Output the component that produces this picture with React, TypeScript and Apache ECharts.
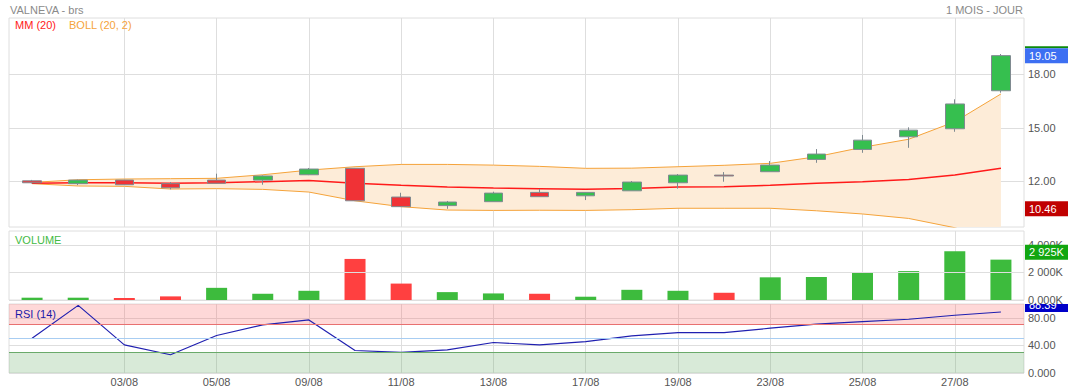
import React, { useEffect, useRef } from "react";
import * as echarts from "echarts";

const dates = ["30/07", "02/08", "03/08", "04/08", "05/08", "06/08", "09/08", "10/08", "11/08", "12/08", "13/08", "16/08", "17/08", "18/08", "19/08", "20/08", "23/08", "24/08", "25/08", "26/08", "27/08", "30/08"];
const opens = [12.03, 11.87, 12.07, 11.87, 12.07, 12.07, 12.37, 12.73, 11.12, 10.64, 10.86, 11.38, 11.19, 11.47, 11.92, 12.35, 12.54, 13.23, 13.79, 14.5, 14.95, 17.08];
const closes = [11.92, 12.07, 11.81, 11.64, 11.89, 12.3, 12.69, 10.91, 10.58, 10.84, 11.34, 11.14, 11.38, 11.96, 12.35, 12.3, 12.91, 13.53, 14.31, 14.87, 16.34, 19.05];
const lows = [11.88, 11.79, 11.79, 11.55, 11.87, 11.81, 12.35, 10.91, 10.56, 10.46, 10.86, 11.14, 10.95, 11.47, 11.59, 11.98, 12.54, 13.04, 13.6, 13.88, 14.78, 16.97];
const highs = [12.08, 12.09, 12.09, 11.96, 12.43, 12.33, 12.75, 12.75, 11.36, 10.9, 11.42, 11.57, 11.4, 12.02, 12.41, 12.52, 13.14, 13.81, 14.6, 15.03, 16.6, 19.14];
const mm20 = [11.89, 11.92, 11.92, 11.89, 11.92, 11.98, 12.05, 11.9, 11.78, 11.68, 11.62, 11.59, 11.55, 11.6, 11.68, 11.7, 11.78, 11.89, 11.98, 12.11, 12.35, 12.73];
const bollUp = [11.94, 12.09, 12.13, 12.15, 12.17, 12.37, 12.63, 12.82, 12.95, 12.95, 12.91, 12.84, 12.73, 12.74, 12.82, 12.9, 13.01, 13.38, 13.91, 14.36, 15.34, 16.9];
const bollLow = [11.87, 11.74, 11.72, 11.57, 11.59, 11.55, 11.4, 10.91, 10.58, 10.39, 10.37, 10.38, 10.37, 10.41, 10.49, 10.49, 10.49, 10.35, 10.17, 9.92, 9.4, 8.6];
const volumesK = [167, 167, 143, 262, 881, 452, 667, 2976, 1190, 571, 476, 452, 238, 738, 667, 524, 1643, 1667, 2000, 2095, 3524, 2925];
const rsi14 = [50.5, 98, 40.8, 26.4, 54.3, 69.7, 76.9, 32.6, 29.8, 33.6, 44.2, 40.8, 45.6, 53.8, 58.6, 58.6, 64.9, 70.7, 74.5, 77.9, 83.7, 88.39];

const priceTicks = [12, 15, 18];
const volumeTicks = [0, 2000, 4000];
const rsiTicks = [0, 40, 80];
const rsiOverbought = 70;
const rsiOversold = 30;
const rsiMiddle = 50;

const FONT = "'Liberation Sans', Arial, sans-serif";
const GRID_LINE = "#dedede";
const LABEL = "#555";
const UP = "#36bf4f";
const DOWN = "#f03236";
const BORDER = "#7f8a90";

const showEven = (i: number) => i > 0 && i % 2 === 0;

function fmtVol(v: number) {
  if (v === 0) return "0.000K";
  const th = Math.floor(v / 1000);
  const rest = String(Math.round(v % 1000)).padStart(3, "0");
  return `${th} ${rest}K`;
}

export default function App() {
  const ref = useRef<HTMLDivElement>(null);
  useEffect(() => {
    if (!ref.current) return;
    const chart = echarts.init(ref.current, undefined, { renderer: "svg" });
    const candleData = opens.map((o, i) => [o, closes[i], lows[i], highs[i]]);
    const bandWidth = bollUp.map((u, i) => +(u - bollLow[i]).toFixed(4));
    const volData = volumesK.map((v, i) => ({
      value: v,
      itemStyle: { color: i === 0 || closes[i] >= closes[i - 1] ? "#3dbb3d" : "#ff4040" },
    }));

    const grids = [
      { left: 9, right: 44, top: 18, height: 209 },
      { left: 9, right: 44, top: 231, height: 69 },
      { left: 9, right: 44, top: 304, height: 69 },
    ].map((g) => ({ ...g, show: true, borderColor: GRID_LINE, borderWidth: 1, backgroundColor: "transparent" }));

    const xAxes = [0, 1, 2].map((gi) => ({
      type: "category",
      gridIndex: gi,
      data: dates,
      boundaryGap: true,
      axisLine: { show: false },
      axisTick: { show: false, alignWithLabel: true, interval: showEven },
      axisLabel: {
        show: gi === 2,
        interval: showEven,
        color: LABEL,
        fontSize: 11,
        fontFamily: FONT,
        margin: 3,
      },
      splitLine: { show: true, interval: showEven, alignWithLabel: true, lineStyle: { color: GRID_LINE, width: 1 } },
    }));

    const yBase = {
      type: "value",
      position: "right",
      axisLine: { show: false },
      splitLine: { show: true, lineStyle: { color: GRID_LINE, width: 1 } },
    };
    const yAxes = [
      {
        ...yBase,
        gridIndex: 0,
        min: 9.44,
        max: 21.16,
        axisTick: { show: false, customValues: priceTicks },
        axisLabel: { customValues: priceTicks, formatter: (v: number) => v.toFixed(2), color: LABEL, fontSize: 11, fontFamily: FONT, margin: 4 },
      },
      {
        ...yBase,
        gridIndex: 1,
        min: 0,
        max: 5000,
        z: 5,
        axisTick: { show: false, customValues: volumeTicks },
        axisLabel: { customValues: volumeTicks, formatter: fmtVol, color: LABEL, fontSize: 11, fontFamily: FONT, margin: 4 },
      },
      {
        ...yBase,
        gridIndex: 2,
        min: 0,
        max: 100,
        axisTick: { show: false, customValues: rsiTicks },
        axisLabel: { customValues: rsiTicks, formatter: (v: number) => (v === 0 ? "0.000" : v.toFixed(2)), color: LABEL, fontSize: 11, fontFamily: FONT, margin: 4 },
      },
    ];

    const headerText = (text: string, x: number, y: number, fill: string, align = "left") => ({
      type: "text",
      x,
      y,
      z: 10,
      silent: true,
      style: { text, fill, font: `11px ${FONT}`, textAlign: align, textVerticalAlign: "middle" },
    });

    const baseGraphic = [
      headerText("VALNEVA - brs", 10, 10, "#8a8a8a"),
      headerText("1 MOIS - JOUR", 1023, 10, "#8a8a8a", "right"),
      headerText("MM (20)", 15, 25, "#ff1a1a"),
      headerText("BOLL (20, 2)", 69, 25, "#f5a33a"),
      headerText("VOLUME", 15, 240, "#44bb44"),
      headerText("RSI (14)", 15, 314, "#1a1aa8"),
    ];

    chart.setOption({
      animation: false,
      grid: grids,
      xAxis: xAxes,
      yAxis: yAxes,
      graphic: baseGraphic,
      series: [
        {
          name: "bollLow",
          type: "line",
          xAxisIndex: 0,
          yAxisIndex: 0,
          data: bollLow,
          stack: "boll",
          symbol: "none",
          z: 2,
          lineStyle: { color: "#f5a33a", width: 1 },
        },
        {
          name: "bollBand",
          type: "line",
          xAxisIndex: 0,
          yAxisIndex: 0,
          data: bandWidth,
          stack: "boll",
          symbol: "none",
          z: 1,
          lineStyle: { width: 0, opacity: 0 },
          areaStyle: { color: "#fdecd8", opacity: 1 },
        },
        {
          name: "bollUp",
          type: "line",
          xAxisIndex: 0,
          yAxisIndex: 0,
          data: bollUp,
          symbol: "none",
          z: 2,
          lineStyle: { color: "#f5a33a", width: 1 },
        },
        {
          name: "MM20",
          type: "line",
          xAxisIndex: 0,
          yAxisIndex: 0,
          data: mm20,
          symbol: "none",
          z: 3,
          lineStyle: { color: "#ff1a1a", width: 1.5 },
        },
        {
          name: "VALNEVA",
          type: "candlestick",
          xAxisIndex: 0,
          yAxisIndex: 0,
          data: candleData,
          barWidth: 19,
          z: 4,
          itemStyle: { color: UP, color0: DOWN, borderColor: BORDER, borderColor0: BORDER, borderWidth: 1 },
        },
        {
          name: "Volume",
          type: "bar",
          xAxisIndex: 1,
          yAxisIndex: 1,
          data: volData,
          barWidth: 21,
        },
        {
          name: "RSI",
          type: "line",
          xAxisIndex: 2,
          yAxisIndex: 2,
          data: rsi14,
          symbol: "none",
          z: 4,
          lineStyle: { color: "#2020b0", width: 1.2 },
          markArea: {
            silent: true,
            data: [
              [{ yAxis: rsiOverbought, itemStyle: { color: "rgba(250,100,100,0.25)" } }, { yAxis: 100 }],
              [{ yAxis: 0, itemStyle: { color: "rgba(100,170,100,0.25)" } }, { yAxis: rsiOversold }],
            ],
          },
          markLine: {
            silent: true,
            symbol: "none",
            label: { show: false },
            data: [
              { yAxis: rsiOverbought, lineStyle: { color: "#e87070", width: 1, type: "solid" } },
              { yAxis: rsiMiddle, lineStyle: { color: "#a8cdf2", width: 1, type: "solid" } },
              { yAxis: rsiOversold, lineStyle: { color: "#6aaa6a", width: 1, type: "solid" } },
            ],
          },
        },
      ],
    });

    // value tags on the right, placed from the data through the axes
    const n = closes.length;
    const lastClose = closes[n - 1];
    const minLow = Math.min(...lows);
    const lastVol = volumesK[n - 1];
    const lastRsi = rsi14[n - 1];
    const yClose = chart.convertToPixel({ yAxisIndex: 0 }, lastClose) as number;
    const yMin = chart.convertToPixel({ yAxisIndex: 0 }, minLow) as number;
    const yVol = chart.convertToPixel({ yAxisIndex: 1 }, lastVol) as number;
    const yRsi = chart.convertToPixel({ yAxisIndex: 2 }, lastRsi) as number;
    const yRsiTop = chart.convertToPixel({ yAxisIndex: 2 }, 100) as number;
    const tagX = 1025;
    const tagW = 43;
    const tagText = (text: string, y: number, z = 10) => ({
      type: "text",
      x: tagX + 4,
      y,
      z,
      silent: true,
      style: { text, fill: "#fff", font: `11px ${FONT}`, textAlign: "left", textVerticalAlign: "middle" },
    });
    const rect = (x: number, y: number, w: number, h: number, fill: string, z = 10) => ({
      type: "rect",
      z,
      silent: true,
      shape: { x, y, width: w, height: h },
      style: { fill },
    });
    const rsiBoxTop = Math.max(yRsiTop, yRsi - 15);
    chart.setOption({
      graphic: [
        ...baseGraphic,
        rect(tagX, yClose - 9.5, tagW, 2, "#0a8a0a"),
        rect(tagX, yClose - 7.5, tagW, 15, "#3d6ff2"),
        tagText(lastClose.toFixed(2), yClose),
        rect(tagX, yMin - 7.5, tagW, 15, "#c00000"),
        tagText(minLow.toFixed(2), yMin),
        rect(tagX, yVol - 15, tagW, 15, "#11a611"),
        tagText(fmtVol(lastVol), yVol - 7.5),
        rect(tagX, rsiBoxTop, tagW, yRsi - rsiBoxTop, "#0000c8", 1),
        tagText(lastRsi.toFixed(2), yRsi - 7.5, 1),
        rect(tagX, yRsiTop - 9, tagW, 8.5, "#ffffff", 2),
      ],
    });

    return () => chart.dispose();
  }, []);
  return <div ref={ref} style={{ position: "fixed", left: 0, top: 0, width: 1068, height: 391, background: "#fff" }} />;
}
